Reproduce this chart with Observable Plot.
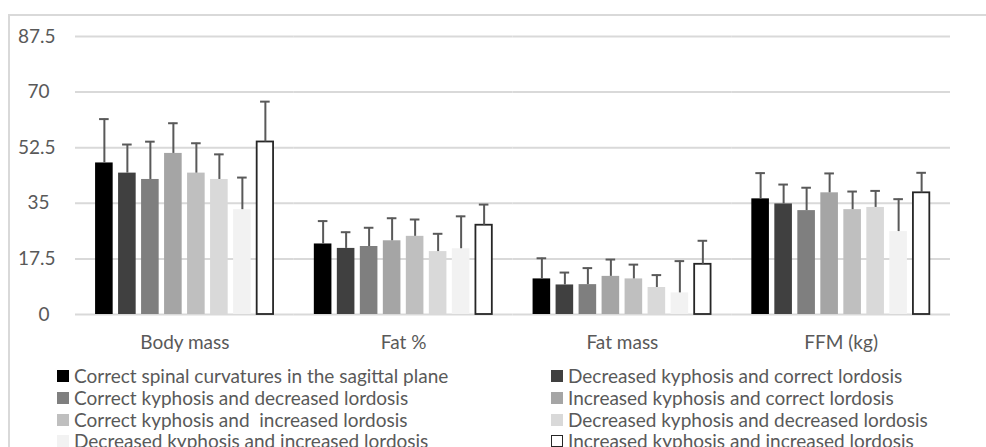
<!DOCTYPE html>
<html>
<head>
<meta charset="utf-8">
<script src="https://cdn.jsdelivr.net/npm/d3@7"></script>
<script src="https://cdn.jsdelivr.net/npm/@observablehq/plot@0.6"></script>
<style>
  html, body { margin: 0; padding: 0; background: #fff; }
  body { width: 986px; height: 447px; overflow: hidden; position: relative; font-family: Lato, "Liberation Sans", sans-serif; color: #595959; }
  #frame { position: absolute; left: 8px; top: 14px; width: 1100px; height: 600px; border: 2px solid #d9d9d9; box-sizing: border-box; }
  #chart { position: absolute; left: 0; top: 0; }
  #legend { position: absolute; left: 0; top: 365px; width: 986px; }
  .row { position: absolute; white-space: nowrap; font-size: 19px; line-height: 22px; height: 22px; display: flex; align-items: center; }
  .sw { width: 12px; height: 12px; margin-right: 5px; box-sizing: border-box; flex: none; }
</style>
</head>
<body>
<div id="frame"></div>
<div id="chart"></div>
<div id="legend"></div>
<script>
const categories = ["Body mass", "Fat %", "Fat mass", "FFM (kg)"];
const groups = [
  "Correct spinal curvatures in the sagittal plane",
  "Decreased kyphosis and correct lordosis",
  "Correct kyphosis and decreased lordosis",
  "Increased kyphosis and correct lordosis",
  "Correct kyphosis and  increased lordosis",
  "Decreased kyphosis and decreased lordosis",
  "Decreased kyphosis and increased lordosis",
  "Increased kyphosis and increased lordosis"
];
// means per category (one value per group)
const meanBodyMass = [47.7, 44.5, 42.5, 50.7, 44.5, 42.5, 33.0, 54.3];
const meanFatPct   = [22.2, 20.8, 21.4, 23.2, 24.6, 19.8, 20.7, 28.1];
const meanFatMass  = [11.2, 9.3, 9.4, 12.0, 11.2, 8.5, 6.8, 15.8];
const meanFFM      = [36.4, 34.8, 32.7, 38.3, 33.0, 33.7, 26.1, 38.3];
// standard deviations (upper error bars)
const sdBodyMass = [13.8, 9.0, 11.9, 9.5, 9.4, 7.9, 10.1, 12.7];
const sdFatPct   = [7.2, 5.1, 5.9, 7.1, 5.3, 5.6, 10.2, 6.5];
const sdFatMass  = [6.5, 3.9, 5.2, 5.3, 4.5, 3.9, 10.0, 7.4];
const sdFFM      = [8.1, 6.1, 7.2, 6.1, 5.7, 5.2, 10.2, 6.3];
// y tick labels
const yTicksWhole = [0, 35, 70];
const yTicksHalf = [17.5, 52.5, 87.5];
const yTicksAll = [0, 17.5, 35, 52.5, 70, 87.5];

// styles
const groupColors = ["#000000", "#404040", "#7f7f7f", "#a5a5a5", "#bfbfbf", "#d9d9d9", "#f2f2f2", "#ffffff"];
const outlined = groups[7];

const means = [meanBodyMass, meanFatPct, meanFatMass, meanFFM];
const sds = [sdBodyMass, sdFatPct, sdFatMass, sdFFM];
const rows = categories.flatMap((c, i) => groups.map((g, j) => ({
  cat: c, group: g, color: groupColors[j], mean: means[i][j], top: means[i][j] + sds[i][j]
})));

const chart = Plot.plot({
  width: 986,
  height: 355,
  marginTop: 36,
  marginBottom: 41,
  marginLeft: 75,
  marginRight: 36,
  style: { fontFamily: "Lato, 'Liberation Sans', sans-serif", fontSize: "19px", color: "#595959", background: "transparent", overflow: "visible" },
  fx: { domain: categories, padding: 0, round: false, axis: "bottom", tickSize: 0, tickPadding: 21, label: null },
  x: { domain: groups, paddingInner: 0.235, paddingOuter: 0.873, round: false, axis: null },
  y: { domain: [0, 87.5], axis: null },
  color: { type: "identity" },
  marks: [
    Plot.gridY(yTicksAll, { stroke: "#d9d9d9", strokeOpacity: 1, strokeWidth: 2 }),
    Plot.axisY(yTicksWhole, { tickSize: 0, tickPadding: 26, label: null, tickFormat: d => String(d) }),
    Plot.axisY(yTicksHalf, { tickSize: 0, tickPadding: 20, label: null, tickFormat: d => String(d) }),
    Plot.barY(rows.filter(d => d.group !== outlined), { fx: "cat", x: "group", y: "mean", fill: "color" }),
    Plot.barY(rows.filter(d => d.group === outlined), { fx: "cat", x: "group", y: "mean", fill: "color", stroke: "#262626", strokeWidth: 1.8, insetLeft: 0.6, insetRight: 0.6 }),
    Plot.ruleX(rows, { fx: "cat", x: "group", y1: "mean", y2: "top", stroke: "#595959", strokeWidth: 2 }),
    Plot.tickY(rows, { fx: "cat", x: "group", y: "top", stroke: "#595959", strokeWidth: 2, insetLeft: 4, insetRight: 4 })
  ]
});
document.getElementById("chart").appendChild(chart);

// legend: Excel fills row-wise, two columns
const legend = document.getElementById("legend");
const colX = [57, 551];
groups.forEach((g, j) => {
  const row = document.createElement("div");
  row.className = "row";
  row.style.left = colX[j % 2] + "px";
  row.style.top = (Math.floor(j / 2) * 21.8) + "px";
  const sw = document.createElement("span");
  sw.className = "sw";
  sw.style.background = groupColors[j];
  if (g === outlined) sw.style.border = "1.5px solid #262626";
  const t = document.createElement("span");
  t.textContent = g;
  t.style.whiteSpace = "pre";
  row.appendChild(sw);
  row.appendChild(t);
  legend.appendChild(row);
});
</script>
</body>
</html>
